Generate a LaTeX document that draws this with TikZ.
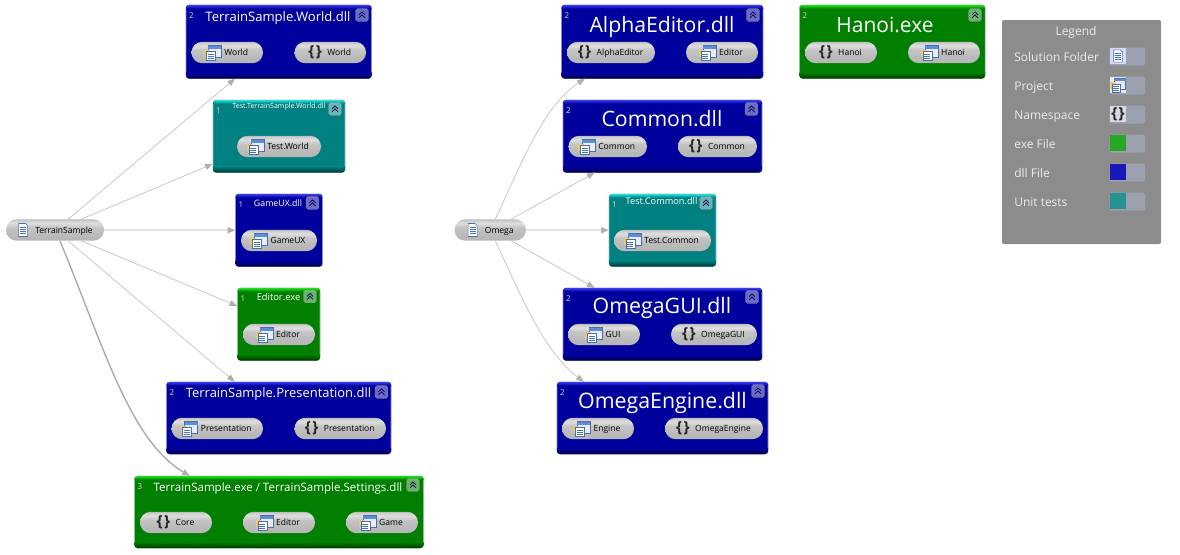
\documentclass[tikz,border=0pt]{standalone}
\usepackage{fontspec}
\setmainfont{Open Sans}
\usetikzlibrary{arrows.meta,calc,fit}
\definecolor{dllk}{HTML}{00009C}\definecolor{dllkrim}{HTML}{3A3AF0}\definecolor{dllkdark}{HTML}{000050}
\definecolor{exek}{HTML}{007F00}\definecolor{exekrim}{HTML}{20E020}\definecolor{exekdark}{HTML}{003800}
\definecolor{testk}{HTML}{008080}\definecolor{testkrim}{HTML}{20E0E0}\definecolor{testkdark}{HTML}{003838}
\definecolor{edgel}{HTML}{C8C8C8}\definecolor{edgef}{HTML}{E4E4E4}\definecolor{edged}{HTML}{A8A8A8}\definecolor{tipc}{HTML}{B0B0B0}
\definecolor{legbg}{HTML}{8C8C8C}\definecolor{swbg}{HTML}{9BA1AF}
\definecolor{iconline}{HTML}{4A6EA8}\definecolor{iconbar}{HTML}{5C8FD8}\definecolor{iconrow}{HTML}{3F74C8}\definecolor{iconyel}{HTML}{E8C870}
\pgfdeclareverticalshading{pillshade}{100bp}{color(0bp)=(black!28);color(25bp)=(black!29);color(40bp)=(black!27);color(56bp)=(black!23);color(66bp)=(black!13);color(72bp)=(black!19);color(75bp)=(black!26);color(100bp)=(black!26)}
\tikzset{
  modbody/.style={draw=#1, inner sep=0pt, outer sep=0pt, rounded corners=2.2pt, line width=.4pt},
  pillbody/.style={inner sep=0pt, outer sep=0pt, rounded corners=8pt, shade, shading=pillshade},
  titletext/.style={text=white, inner sep=0pt},
  counttext/.style={text=white!85!black, inner sep=0pt, font=\fontsize{6}{7}\selectfont},
  pilltext/.style={text=black, inner sep=0pt, anchor=center, font=\fontsize{6.4}{8}\selectfont},
  btnbody/.style={draw=white!55!black, fill=white, fill opacity=.42, draw opacity=.6, inner sep=0pt, outer sep=0pt, minimum size=9.4pt, rounded corners=1.2pt},
  thinedge/.style={edgel, line width=.6pt, -{Triangle[length=6pt,width=4.4pt,color=tipc]}},
  fatedge/.style={edgef, line width=1.5pt, -{Triangle[length=6pt,width=4.4pt,color=tipc]}},
  darkedge/.style={edged, line width=1pt, -{Triangle[length=6pt,width=4.4pt,color=tipc]}},
  legtext/.style={text=white!92!black, inner sep=0pt, font=\fontsize{9}{11}\selectfont},
  swbody/.style={fill=swbg, rounded corners=1.5pt, inner sep=0pt, outer sep=0pt},
}
% icons, drawn around the current origin
\newcommand{\icondoc}{%
  \fill[white] (-4.5,-6.5) -- (2.5,-6.5) -- (4.5,-4.5) -- (4.5,6.5) -- (-4.5,6.5) -- cycle;
  \draw[iconline, line width=.4pt] (-4.5,-6.5) -- (2.5,-6.5) -- (4.5,-4.5) -- (4.5,6.5) -- (-4.5,6.5) -- cycle;
  \foreach \yy in {-2.5,-.5,1.5,3.5}{\draw[iconrow, line width=.7pt] (-3,\yy) -- (3,\yy);}
}
\newcommand{\iconproj}{%
  \fill[white!92!blue] (-4,-7) rectangle (9,5);
  \draw[iconline, line width=.35pt] (-4,-7) rectangle (9,5);
  \fill[iconbar] (-4,-7) rectangle (9,-4);
  \fill[iconyel] (-8,-3) rectangle (-2,4);
  \fill[white] (-6,-1) rectangle (3,8);
  \draw[iconline, line width=.35pt] (-6,-1) rectangle (3,8);
  \foreach \yy in {1.5,3.5,5.5}{\draw[iconrow, line width=.6pt] (-4.5,\yy) -- (1.5,\yy);}
}
\newcommand{\iconns}{\node[inner sep=0pt, text=black!85] at (0,-.2) {\fontsize{11.5}{12}\selectfont\bfseries\{\kern1pt\}};}
% \modbox{name}{x1,y1}{x2,y2}{kind}{count}{tx,ty}{font pt}{title}{bx,by}
\newcommand{\modbox}[9]{%
  \coordinate (#1-a) at (#2);
  \coordinate (#1-b) at (#3);
  \node[modbody=#4!45!white, fill=#4, fit=(#1-a)(#1-b)] (#1) {};
  \begin{scope}
    \clip[rounded corners=2.2pt] (#1-a) rectangle (#1-b);
    \shade[top color=#4rim, bottom color=#4] (#1-a) rectangle ($(#1-a -| #1-b)+(0,3.5)$);
    \shade[top color=#4, bottom color=#4dark] ($(#1-b |- #1-b)+(0,-6)$) rectangle ($(#1-a |- #1-b)$);
  \end{scope}
  \node[counttext] (#1-n) at ($(#1-a)+(5.5,10.5)$) {#5};
  \node[titletext, font=\fontsize{#7}{#7}\selectfont] (#1-h) at (#6) {\vphantom{Ag}#8};
  \node[btnbody] (#1-k) at (#9) {};
  \draw[blue!35!black, line width=.55pt] ($(#1-k)+(-3,-.2)$) -- ($(#1-k)+(0,-3.2)$) -- ($(#1-k)+(3,-.2)$);
  \draw[blue!35!black, line width=.55pt] ($(#1-k)+(-3,2.8)$) -- ($(#1-k)+(0,-.2)$) -- ($(#1-k)+(3,2.8)$);
}
% \pill{name}{x1}{x2}{cy}{icon macro}{text}
\newcommand{\pill}[6]{%
  \coordinate (#1-a) at (#2,#4-10.7);
  \coordinate (#1-b) at (#3,#4+10.7);
  \node[pillbody, fit=(#1-a)(#1-b)] (#1) {};
  \node[pilltext] (#1-t) at ($(#1)+(9,1.1)$) {\vphantom{Ag}#6};
  \begin{scope}[shift={($(#1-t.west)+(-12,-1.1)$)}]
    #5
  \end{scope}
}
% \legrow{name}{cy}{text}{swatch drawing}
\newcommand{\legrow}[4]{%
  \node[legtext, anchor=base west] (#1-t) at (1014,#2+4) {#3};
  \coordinate (#1-a) at (1109.5,#2-9.5);
  \coordinate (#1-b) at (1145,#2+8.5);
  \node[swbody, fit=(#1-a)(#1-b)] (#1) {};
  \begin{scope}[shift={(1118,#2-1)}]
    #4
  \end{scope}
}
\begin{document}
\begin{tikzpicture}[x=.75pt,y=-.75pt]
\useasboundingbox (0,0) rectangle (1180,554);
\fill[white] (0,0) rectangle (1180,554);

% module boxes
\modbox{world}{186,5}{371.5,78.5}{dllk}{2}{278,18.5}{9.8}{TerrainSample.World.dll}{362,15}
\pill{worlda}{191.5}{263}{52.5}{\iconproj}{World}
\pill{worldb}{294.5}{366}{52.5}{\iconns}{World}
\modbox{tworld}{213,100}{345,172.5}{testk}{1}{279,107}{5.3}{Test.TerrainSample.World.dll}{335,109}
\pill{tworlda}{237}{321}{146.5}{\iconproj}{Test.World}
\modbox{gameux}{235.5,194}{322.5,266.5}{dllk}{1}{278,204}{6.6}{GameUX.dll}{312.5,203}
\pill{gameuxa}{241}{317}{240.5}{\iconproj}{GameUX}
\modbox{editor}{237.5,288}{320,360.5}{exek}{1}{278.5,298}{7}{Editor.exe}{310,296.5}
\pill{editora}{243}{315}{334.5}{\iconproj}{Editor}
\modbox{pres}{166.5,382}{391,454}{dllk}{2}{278.5,394.5}{9.7}{TerrainSample.Presentation.dll}{381.5,392}
\pill{presa}{171.5}{263}{428.5}{\iconproj}{Presentation}
\pill{presb}{294.5}{386}{428.5}{\iconns}{Presentation}
\modbox{tsexe}{134.5,476}{423.5,548}{exek}{3}{278,488.5}{8.65}{TerrainSample.exe / TerrainSample.Settings.dll}{413,485}
\pill{tsexea}{140}{212}{522.5}{\iconns}{Core}
\pill{tsexeb}{243}{315}{522.5}{\iconproj}{Editor}
\pill{tsexec}{346}{418}{522.5}{\iconproj}{Game}

\modbox{alpha}{561.5,5}{763,78.5}{dllk}{2}{662,27}{15.9}{AlphaEditor.dll}{753,15}
\pill{alphaa}{567}{655}{52.5}{\iconns}{AlphaEditor}
\pill{alphab}{686}{758}{52.5}{\iconproj}{Editor}
\modbox{common}{563,100}{762,172.5}{dllk}{2}{662,120.5}{15.9}{Common.dll}{751.5,109}
\pill{commona}{568.5}{647}{146.5}{\iconproj}{Common}
\pill{commonb}{678}{757}{146.5}{\iconns}{Common}
\modbox{tcommon}{609,194}{716,266.5}{testk}{1}{661.5,202.5}{6.9}{Test.Common.dll}{706,203}
\pill{tcommona}{614}{711}{240.5}{\iconproj}{Test.Common}
\modbox{ogui}{563,288}{762,360.5}{dllk}{2}{662,308}{16}{OmegaGUI.dll}{752,297}
\pill{oguia}{568}{640}{334.5}{\iconproj}{GUI}
\pill{oguib}{671}{757}{334.5}{\iconns}{OmegaGUI}
\modbox{oeng}{557,382}{768,454}{dllk}{2}{662.5,402.5}{16}{OmegaEngine.dll}{758,391}
\pill{oenga}{562}{634}{428.5}{\iconproj}{Engine}
\pill{oengb}{665}{763}{428.5}{\iconns}{OmegaEngine}
\modbox{hanoi}{799.5,5}{985,78.5}{exek}{2}{885,27}{15.7}{Hanoi.exe}{975,15}
\pill{hanoia}{805}{877}{52.5}{\iconns}{Hanoi}
\pill{hanoib}{908}{980}{52.5}{\iconproj}{Hanoi}

% solution folders
\pill{tsroot}{6}{104}{230}{\icondoc}{TerrainSample}
\pill{omroot}{454.5}{526}{230}{\icondoc}{Omega}

% connectors
\draw[thinedge] ($(tsroot.north west)!.633!(tsroot.north east)$) -- ($(world.south west)!.265!(world.south east)$);
\draw[thinedge] ($(tsroot.north west)!.765!(tsroot.north east)$) -- ($(tworld.north west)!.88!(tworld.south west)$);
\draw[fatedge] (tsroot.east) -- (gameux.west);
\draw[thinedge] ($(tsroot.south west)!.765!(tsroot.south east)$) -- ($(editor.north west)!.25!(editor.south west)$);
\draw[thinedge] ($(tsroot.south west)!.633!(tsroot.south east)$) -- ($(pres.north west)!.305!(pres.north east)$);
\draw[darkedge] ($(tsroot.south west)!.55!(tsroot.south east)$) .. controls (105,350) and (130,440) .. ($(tsexe.north west)!.192!(tsexe.north east)$);

\draw[thinedge] ($(omroot.north west)!.57!(omroot.north east)$) .. controls (525,155) and (545,105) .. ($(alpha.south west)!.117!(alpha.south east)$);
\draw[thinedge] ($(omroot.north west)!.79!(omroot.north east)$) -- ($(common.south west)!.16!(common.south east)$);
\draw[fatedge] (omroot.east) -- (tcommon.west);
\draw[thinedge] ($(omroot.south west)!.79!(omroot.south east)$) -- ($(ogui.north west)!.16!(ogui.north east)$);
\draw[thinedge] ($(omroot.south west)!.57!(omroot.south east)$) .. controls (525,305) and (545,352) .. ($(oeng.north west)!.128!(oeng.north east)$);

% legend
\coordinate (leg-a) at (1002,20);
\coordinate (leg-b) at (1161,244);
\node[fill=legbg, rounded corners=1.5pt, inner sep=0pt, fit=(leg-a)(leg-b)] (leg) {};
\node[legtext] (legtitle) at (1076,32) {Legend};
\legrow{lsf}{57}{Solution Folder}{\fill[white!85!blue] (-8,-8) rectangle (8,8); \begin{scope}[scale=.95]\icondoc\end{scope}}
\legrow{lpr}{86}{Project}{\fill[white!75!swbg] (-8,-8) rectangle (8,8); \begin{scope}[shift={(-.5,0)},scale=.9]\iconproj\end{scope}}
\legrow{lns}{115}{Namespace}{\fill[white!60!swbg] (-8,-8) rectangle (8,8); \iconns}
\legrow{lex}{144}{exe File}{\fill[green!60!black!85!white] (-8,-8) rectangle (8,8);}
\legrow{ldl}{173}{dll File}{\fill[blue!70!black!90!white] (-8,-8) rectangle (8,8);}
\legrow{lut}{202}{Unit tests}{\fill[teal!85!white] (-8,-8) rectangle (8,8);}
\end{tikzpicture}
\end{document}
